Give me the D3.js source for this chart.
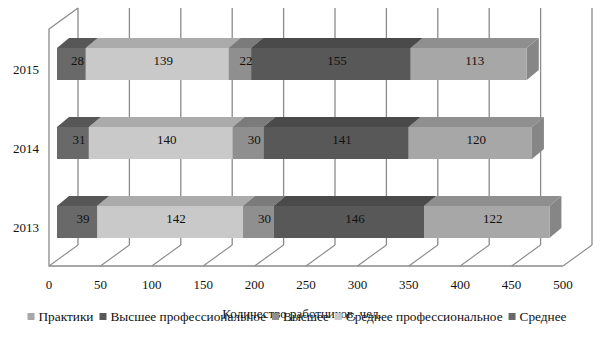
<!DOCTYPE html>
<html>
<head>
<meta charset="utf-8">
<script src="https://cdn.jsdelivr.net/npm/d3@7"></script>
<style>
  body { margin: 0; background: #fff; }
  svg text { font-family: "Liberation Serif", "DejaVu Serif", serif; }
</style>
</head>
<body>
<svg id="chart" width="605" height="340"></svg>
<script>
// Data
var years = ["2015", "2014", "2013"];
var series = ["Среднее", "Среднее профессиональное", "Высшее", "Высшее профессиональное", "Практики"];
var values = {
    "2015": [28, 139, 22, 155, 113],
    "2014": [31, 140, 30, 141, 120],
    "2013": [39, 142, 30, 146, 122]
};
var ticks = [0, 50, 100, 150, 200, 250, 300, 350, 400, 450, 500];
var legendOrder = ["Практики", "Высшее профессиональное", "Высшее", "Среднее профессиональное", "Среднее"];
var axisTitle = "Количество работников, чел.";

// colours: front / top / side for each series
var frontCol = ["#696969", "#c9c9c9", "#8f8f8f", "#585858", "#a7a7a7"];
var topCol   = ["#575757", "#ababab", "#7b7b7b", "#4a4a4a", "#8f8f8f"];
var sideCol  = ["#555555", "#a0a0a0", "#757575", "#444444", "#868686"];
var gridCol = "#8a8a8a";

var svg = d3.select("#chart");

// scales
var x = d3.scaleLinear().domain([0, 500]).range([49, 563]);
var y = d3.scalePoint().domain(years).range([64, 222]);

// 3D offsets
var floorDx = 29, floorDy = -21;   // full depth of the plot box
var barIn = 8;                      // bar front offset from front plane
var barDx = 12, barDy = -10;        // bar depth
var barH = 32;
var floorY = 266, wallTop = 29;

// back wall gridlines
svg.append("g").selectAll("line")
    .data(ticks)
    .enter()
    .append("line")
    .attr("x1", function(d) { return x(d) + floorDx; })
    .attr("x2", function(d) { return x(d) + floorDx; })
    .attr("y1", wallTop + floorDy)
    .attr("y2", floorY + floorDy)
    .attr("stroke", gridCol)
    .attr("stroke-width", 1.3);

// floor diagonals
svg.append("g").selectAll("line")
    .data(ticks)
    .enter()
    .append("line")
    .attr("x1", function(d) { return x(d); })
    .attr("x2", function(d) { return x(d) + floorDx; })
    .attr("y1", floorY)
    .attr("y2", floorY + floorDy)
    .attr("stroke", gridCol)
    .attr("stroke-width", 1.1);

// floor front edge and left wall
svg.append("path")
    .attr("d", "M" + x(500) + "," + floorY + "H" + x(0) + "V" + wallTop +
        "L" + (x(0) + floorDx) + "," + (wallTop + floorDy))
    .attr("fill", "none")
    .attr("stroke", gridCol)
    .attr("stroke-width", 1.3);

// bars
var rows = years.map(function(yr) {
    var acc = 0;
    return values[yr].map(function(v, i) {
        var seg = { year: yr, i: i, v: v, x0: acc, x1: acc + v };
        acc += v;
        return seg;
    });
});

rows.forEach(function(row) {
    var g = svg.append("g");
    row.forEach(function(s) {
        var fx0 = x(s.x0) + barIn;
        var fx1 = x(s.x1) + barIn;
        var fy = y(s.year) - barH / 2;
        // top face
        g.append("path")
            .attr("d", "M" + fx0 + "," + fy + "L" + (fx0 + barDx) + "," + (fy + barDy) +
                "L" + (fx1 + barDx) + "," + (fy + barDy) + "L" + fx1 + "," + fy + "Z")
            .attr("fill", topCol[s.i]);
        // side face
        g.append("path")
            .attr("d", "M" + fx1 + "," + fy + "L" + (fx1 + barDx) + "," + (fy + barDy) +
                "L" + (fx1 + barDx) + "," + (fy + barH + barDy) + "L" + fx1 + "," + (fy + barH) + "Z")
            .attr("fill", sideCol[s.i]);
        // front face
        g.append("rect")
            .attr("x", fx0)
            .attr("y", fy)
            .attr("width", fx1 - fx0)
            .attr("height", barH)
            .attr("fill", frontCol[s.i]);
    });
    // labels
    row.forEach(function(s) {
        g.append("text")
            .attr("x", (x(s.x0) + x(s.x1)) / 2 + barIn + barDx / 2)
            .attr("y", y(s.year) - 4)
            .attr("dy", "0.35em")
            .attr("text-anchor", "middle")
            .attr("font-size", 13)
            .attr("fill", "#111")
            .text(s.v);
    });
});

// category labels
svg.append("g").selectAll("text")
    .data(years)
    .enter()
    .append("text")
    .attr("x", 39)
    .attr("y", function(d) { return y(d) + 5; })
    .attr("dy", "0.35em")
    .attr("text-anchor", "end")
    .attr("font-size", 13)
    .attr("fill", "#111")
    .text(function(d) { return d; });

// tick labels
svg.append("g").selectAll("text")
    .data(ticks)
    .enter()
    .append("text")
    .attr("x", function(d) { return x(d); })
    .attr("y", 289)
    .attr("text-anchor", "middle")
    .attr("font-size", 13)
    .attr("fill", "#111")
    .text(function(d) { return d; });

// axis title
svg.append("text")
    .attr("x", 302)
    .attr("y", 318)
    .attr("text-anchor", "middle")
    .attr("font-size", 13)
    .attr("fill", "#111")
    .text(axisTitle);

// legend
var legend = svg.append("g");
var lx = 0;
legendOrder.forEach(function(name) {
    var i = series.indexOf(name);
    var item = legend.append("g").attr("transform", "translate(" + lx + ",0)");
    item.append("rect")
        .attr("x", 0).attr("y", 313)
        .attr("width", 7).attr("height", 7)
        .attr("fill", frontCol[i]);
    var t = item.append("text")
        .attr("x", 11).attr("y", 321)
        .attr("font-size", 13.3)
        .attr("fill", "#111")
        .text(name);
    lx += 11 + t.node().getComputedTextLength() + 6;
});
legend.attr("transform", "translate(" + (297 - (lx - 6) / 2) + ",0)");
</script>
</body>
</html>
